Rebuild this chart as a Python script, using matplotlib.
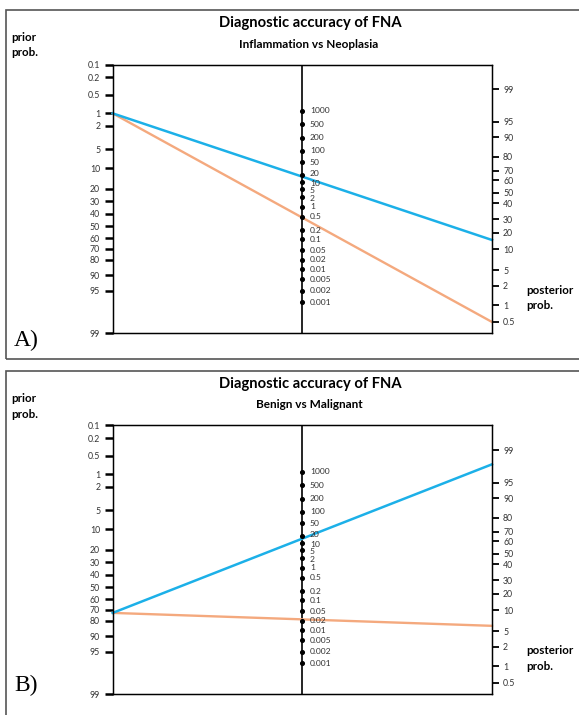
import numpy as np
import matplotlib
matplotlib.use('Agg')
import matplotlib.pyplot as plt
from matplotlib.patches import Rectangle

# nomogram scales: tick values and where they sit on the drawn scale (0 = top, 1 = bottom)
prior_ticks = [0.1, 0.2, 0.5, 1, 2, 5, 10, 20, 30, 40, 50, 60, 70, 80, 90, 95, 99]
prior_pos = [0, 0.048, 0.112, 0.182, 0.229, 0.315, 0.387, 0.462, 0.509, 0.556,
             0.603, 0.648, 0.687, 0.727, 0.784, 0.843, 1.0]
post_ticks = [99, 95, 90, 80, 70, 60, 50, 40, 30, 20, 10, 5, 2, 1, 0.5]
post_pos = [0.093, 0.214, 0.271, 0.344, 0.395, 0.431, 0.478, 0.517, 0.576,
            0.627, 0.689, 0.766, 0.824, 0.896, 0.959]
lr_ticks = [1000, 500, 200, 100, 50, 20, 10, 5, 2, 1, 0.5, 0.2, 0.1, 0.05,
            0.02, 0.01, 0.005, 0.002, 0.001]
lr_labels = ['1000', '500', '200', '100', '50', '20', '10', '5', '2', '1', '0.5',
             '0.2', '0.1', '0.05', '0.02', '0.01', '0.005', '0.002', '0.001']
lr_pos = [0.173, 0.223, 0.273, 0.322, 0.364, 0.412, 0.437, 0.465, 0.495, 0.530,
          0.567, 0.617, 0.650, 0.692, 0.728, 0.763, 0.799, 0.843, 0.886]

# prior -> posterior probabilities (%) for positive (blue) and negative (orange) result
panels = ['A)', 'B)']
subtitles = ['Inflammation vs Neoplasia', 'Benign vs Malignant']
prior_prob = [1, 73]
post_positive = [15, 98]
post_negative = [0.5, 6]

BLUE = '#1cb0e8'
ORANGE = '#f4a97e'
W, H = 579, 715
# small label nudges (axis fraction) so crowded LR labels don't sit on each other
nudge = {'20': -0.006, '10': 0.008, '5': 0.004, '2': 0.003}


def logit(p):
    p = np.asarray(p, dtype=float) / 100.0
    return np.log(p / (1 - p))


def scale(vals, ticks, pos):
    ''' map probability onto drawn scale, interpolating in logit space '''
    t = logit(ticks)
    order = np.argsort(t)
    return np.interp(logit(vals), t[order], np.asarray(pos)[order])


def fx(x):
    return x / W


def fy(y):
    return 1 - y / H


fig = plt.figure(figsize=(W / 100, H / 100), dpi=100)
fnt = 'Lato'

for i in range(2):
    off = 361 * i
    # panel frame
    fig.add_artist(Rectangle((fx(5.7), fy(359.3 + off)), 1.0, (349.3) / H,
                             transform=fig.transFigure, fill=False,
                             edgecolor='#555555', lw=1.2, clip_on=False))
    ax = fig.add_axes([fx(112.7), fy(333 + off), (492 - 112.7) / W, 268.5 / H])
    ax.set_xlim(0, 1)
    ax.set_ylim(1, 0)
    for s in ax.spines.values():
        s.set_linewidth(1.0)
    ax.set_xticks([])
    ax.set_yticks(prior_pos)
    ax.set_yticklabels([str(v) for v in prior_ticks], fontsize=6.3, family=fnt,
                       color='#333333')
    ax.tick_params(axis='y', length=6, width=1.8, pad=3)

    ax2 = ax.twinx()
    ax2.set_ylim(1, 0)
    ax2.set_yticks(post_pos)
    ax2.set_yticklabels([str(v) for v in post_ticks], fontsize=6.3, family=fnt,
                        color='#333333')
    ax2.tick_params(axis='y', length=5, width=1.3, pad=3)

    # likelihood ratio scale in the middle
    ax.axvline(0.5, color='black', lw=1.2)
    ax.scatter([0.5] * len(lr_pos), lr_pos, s=7, color='black', zorder=3)
    for lab, p in zip(lr_labels, lr_pos):
        ax.text(0.52, p + nudge.get(lab, 0), lab, fontsize=6.1, family=fnt,
                va='center', ha='left', color='#333333')

    y0 = scale([prior_prob[i]], prior_ticks, prior_pos)[0]
    yb = scale([post_positive[i]], post_ticks, post_pos)[0]
    yo = scale([post_negative[i]], post_ticks, post_pos)[0]
    ax.plot([0, 1], [y0, yo], color=ORANGE, lw=1.7, clip_on=False, zorder=2)
    ax.plot([0, 1], [y0, yb], color=BLUE, lw=1.8, clip_on=False, zorder=2)

    fig.text(fx(310), fy(23 + off), 'Diagnostic accuracy of FNA', fontsize=10.6,
             fontweight='bold', family=fnt, ha='center', va='center')
    fig.text(fx(309), fy(44 + off), subtitles[i], fontsize=8.5, fontweight='bold',
             family=fnt, ha='center', va='center')
    fig.text(fx(11.7), fy(37.5 + off), 'prior', fontsize=8.3, fontweight='bold',
             family=fnt, ha='left', va='center')
    fig.text(fx(11.7), fy(53 + off), 'prob.', fontsize=8.3, fontweight='bold',
             family=fnt, ha='left', va='center')
    fig.text(fx(526.7), fy(290 + off), 'posterior', fontsize=8.3, fontweight='bold',
             family=fnt, ha='left', va='center')
    fig.text(fx(526.7), fy(305.5 + off), 'prob.', fontsize=8.3, fontweight='bold',
             family=fnt, ha='left', va='center')
    fig.text(fx(14), fy(340 + off - (16 if i else 0)), panels[i], fontsize=17,
             family='Liberation Serif', ha='left', va='center')

fig.savefig('out.png', dpi=100)
